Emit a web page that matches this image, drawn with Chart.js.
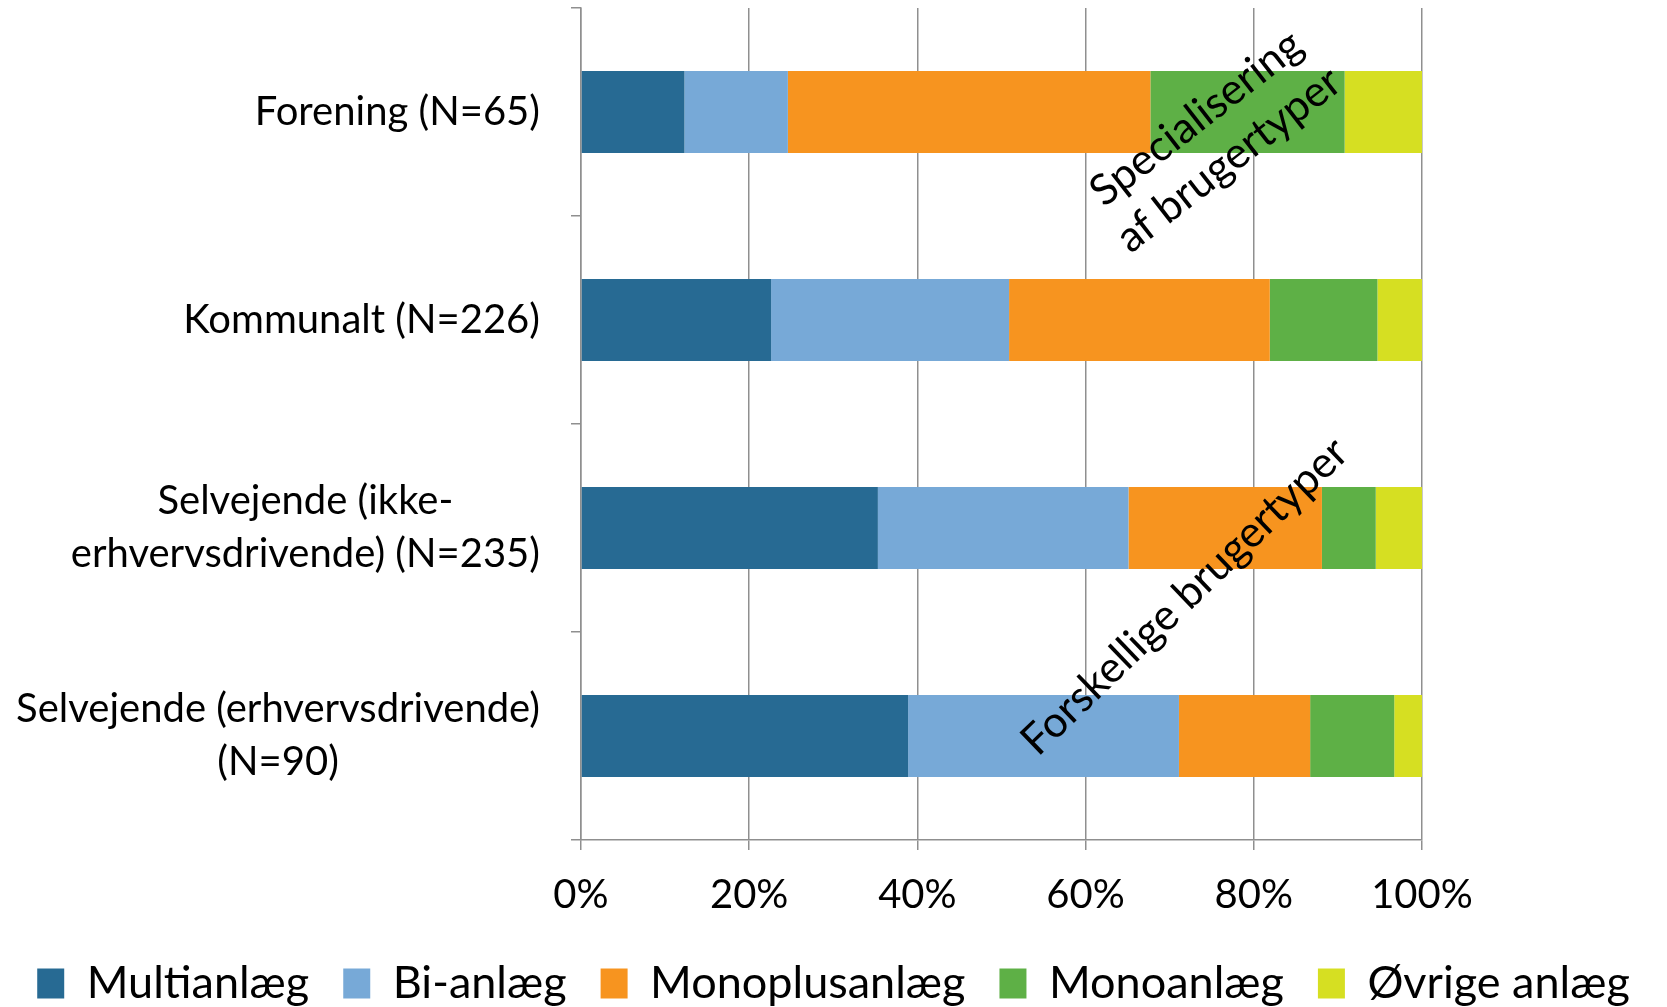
<!DOCTYPE html>
<html><head><meta charset="utf-8">
<script src="https://cdn.jsdelivr.net/npm/chart.js@4.4.1/dist/chart.umd.min.js"></script>
<style>html,body{margin:0;padding:0;background:#fff}canvas{display:block}</style>
</head><body>
<canvas id="c" width="1667" height="1007"></canvas>
<script>
// ---- data ----
const categories = [
  ['Forening (N=65)'],
  ['Kommunalt (N=226)'],
  ['Selvejende (ikke-', 'erhvervsdrivende) (N=235)'],
  ['Selvejende (erhvervsdrivende)', '(N=90)']
];
const seriesNames = ['Multianlæg', 'Bi-anlæg', 'Monoplusanlæg', 'Monoanlæg', 'Øvrige anlæg'];
const multianlaeg    = [12.3, 22.6, 35.3, 38.9];
const bianlaeg       = [12.3, 28.3, 29.8, 32.2];
const monoplusanlaeg = [43.1, 31.0, 23.0, 15.6];
const monoanlaeg     = [23.1, 12.8, 6.4, 10.0];
const oevrigeanlaeg  = [9.2, 5.3, 5.5, 3.3];
const xTickValues = [0, 20, 40, 60, 80, 100];
const noteSpecial = ['Specialisering', 'af brugertyper'];
const noteForskellige = ['Forskellige brugertyper'];

// ---- styles ----
const FONT = 'Lato';
const LABEL_SIZE = 40;
const LEGEND_SIZE = 45;
const NOTE_SIZE = 43;
const LINE_H = 53;
const NOTE_LINE_H = 53;
const GRID = '#8f8f8f';
const colors = ['#276a93', '#77a9d7', '#f7941f', '#5eb046', '#d6df22'];
const seriesValues = [multianlaeg, bianlaeg, monoplusanlaeg, monoanlaeg, oevrigeanlaeg];

Chart.defaults.color = '#000';
Chart.defaults.font.family = FONT;

const yLabelPlugin = {
  id: 'yLabels',
  afterDraw(chart) {
    const ctx = chart.ctx, ys = chart.scales.y;
    ctx.save();
    ctx.font = LABEL_SIZE + 'px ' + FONT;
    ctx.fillStyle = '#000';
    ctx.textAlign = 'center';
    ctx.textBaseline = 'middle';
    const right = chart.chartArea.left - 41;
    categories.forEach((lines, i) => {
      const yc = ys.getPixelForTick(i);
      const w = Math.max(...lines.map(l => ctx.measureText(l).width));
      const cx = right - w / 2;
      lines.forEach((l, j) => ctx.fillText(l, cx, yc + (j - (lines.length - 1) / 2) * LINE_H));
    });
    ctx.restore();
  }
};

const notePlugin = {
  id: 'notes',
  afterDatasetsDraw(chart) {
    const ctx = chart.ctx, xs = chart.scales.x, ys = chart.scales.y;
    const drawNote = (lines, xv, yv, angleDeg) => {
      const cx = xs.getPixelForValue(xv), cy = ys.getPixelForValue(yv);
      ctx.save();
      ctx.translate(cx, cy);
      ctx.rotate(angleDeg * Math.PI / 180);
      ctx.font = NOTE_SIZE + 'px ' + FONT;
      ctx.fillStyle = '#000';
      ctx.textAlign = 'center';
      ctx.textBaseline = 'middle';
      lines.forEach((l, j) => ctx.fillText(l, 0, (j - (lines.length - 1) / 2) * NOTE_LINE_H));
      ctx.restore();
    };
    drawNote(noteSpecial, 75.1, 0.13, -38);
    drawNote(noteForskellige, 71.8, 2.33, -44);
  }
};

new Chart(document.getElementById('c'), {
  type: 'bar',
  data: {
    labels: categories,
    datasets: seriesNames.map((name, k) => ({
      label: name,
      data: seriesValues[k],
      backgroundColor: colors[k],
      borderWidth: 0,
      barPercentage: 0.394,
      categoryPercentage: 1
    }))
  },
  options: {
    indexAxis: 'y',
    responsive: false,
    animation: false,
    layout: { padding: { top: 8, right: 0, bottom: 0, left: 0 } },
    plugins: {
      tooltip: { enabled: false },
      legend: {
        position: 'bottom',
        maxHeight: 80,
        labels: {
          font: { size: LEGEND_SIZE, family: FONT },
          color: '#000',
          boxWidth: 27,
          boxHeight: 30,
          padding: 34
        }
      }
    },
    scales: {
      x: {
        type: 'linear',
        stacked: true,
        min: 0,
        max: 100,
        afterBuildTicks: (s) => { s.ticks = xTickValues.map(v => ({ value: v })); },
        afterFit: (s) => { s.height = 87; },
        grid: { color: GRID, lineWidth: 1.5, drawTicks: true, tickLength: 10 },
        border: { display: true, color: GRID, width: 1.5 },
        ticks: {
          font: { size: LABEL_SIZE, family: FONT },
          color: '#000',
          padding: 21,
          callback: (v) => v + '%'
        }
      },
      y: {
        stacked: true,
        grid: { display: true, drawOnChartArea: false, drawTicks: true, tickLength: 10, offset: true, color: GRID, lineWidth: 1.5 },
        border: { display: true, color: GRID, width: 1.5 },
        ticks: { display: false },
        afterFit: (s) => { s.width = 581; }
      },
      rightSpace: {
        type: 'linear',
        position: 'right',
        display: true,
        grid: { display: false },
        border: { display: false },
        ticks: { display: false },
        afterFit: (s) => { s.width = 245; }
      }
    }
  },
  plugins: [yLabelPlugin, notePlugin]
});
</script>
</body></html>
